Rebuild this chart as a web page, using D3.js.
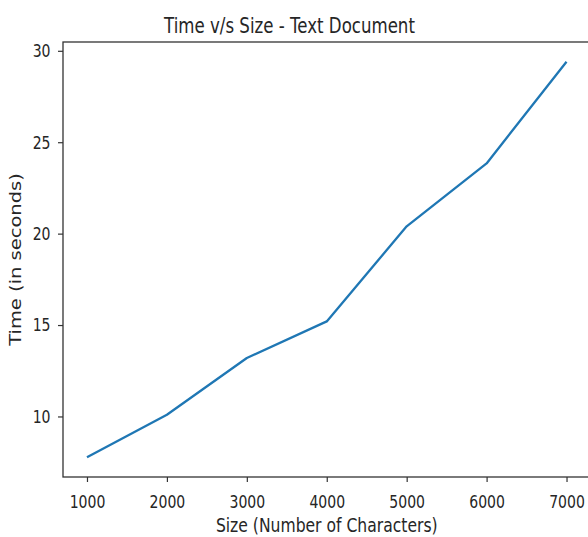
<!DOCTYPE html>
<html>
<head>
<meta charset="utf-8">
<script src="https://cdn.jsdelivr.net/npm/d3@7"></script>
<style>
  body { margin: 0; background: #fff; }
  svg { display: block; }
  text { font-family: "DejaVu Sans", sans-serif; fill: #262626; }
</style>
</head>
<body>
<svg id="chart" width="588" height="537"></svg>
<script>
// values
var sizes = [1000, 2000, 3000, 4000, 5000, 6000, 7000];
var times = [7.77, 10.09, 13.2, 15.2, 20.4, 23.84, 29.4];
var xTicks = [1000, 2000, 3000, 4000, 5000, 6000, 7000];
var yTicks = [10, 15, 20, 25, 30];

drawLine();

function drawLine(){
  var squeeze = 0.78; // the original picture is narrowed sideways

  var svg = d3.select("#chart"),
  plot = {left: 63, right: 590.5, top: 42, bottom: 477};

  // matplotlib style 5% margins around the data
  var xPad = (d3.max(sizes) - d3.min(sizes)) * 0.05;
  var yPad = (d3.max(times) - d3.min(times)) * 0.05;

  var x = d3.scaleLinear()
  .domain([d3.min(sizes) - xPad, d3.max(sizes) + xPad])
  .range([plot.left, plot.right]);

  var y = d3.scaleLinear()
  .domain([d3.min(times) - yPad, d3.max(times) + yPad])
  .range([plot.bottom, plot.top]);

  // the line
  var line = d3.line()
  .x(function(d, i) { return x(sizes[i]); })
  .y(function(d) { return y(d); });

  svg.append("path")
  .datum(times)
  .attr("fill", "none")
  .attr("stroke", "#1f77b4")
  .attr("stroke-width", 2.3)
  .attr("stroke-linejoin", "round")
  .attr("d", line);

  // frame
  svg.append("rect")
  .attr("x", plot.left)
  .attr("y", plot.top)
  .attr("width", plot.right - plot.left)
  .attr("height", plot.bottom - plot.top)
  .attr("fill", "none")
  .attr("stroke", "#333")
  .attr("stroke-width", 1.3);

  // x axis
  var gx = svg.append("g")
  .attr("transform", "translate(0," + plot.bottom + ")")
  .call(d3.axisBottom(x).tickValues(xTicks).tickSize(5).tickFormat(d3.format("d")));
  gx.select(".domain").remove();
  gx.selectAll(".tick line").attr("stroke", "#333").attr("stroke-width", 1.2);
  gx.selectAll(".tick text")
  .attr("y", 31)
  .attr("dy", 0)
  .attr("fill", "#262626")
  .attr("font-size", 18)
  .attr("font-family", "DejaVu Sans, sans-serif")
  .attr("transform", "scale(" + squeeze + ",1)");

  // y axis
  var gy = svg.append("g")
  .attr("transform", "translate(" + plot.left + ",0)")
  .call(d3.axisLeft(y).tickValues(yTicks).tickSize(5));
  gy.select(".domain").remove();
  gy.selectAll(".tick line").attr("stroke", "#333").attr("stroke-width", 1.2);
  gy.selectAll(".tick text")
  .attr("x", -12.5 / squeeze)
  .attr("dy", "0.33em")
  .attr("fill", "#262626")
  .attr("font-size", 18)
  .attr("font-family", "DejaVu Sans, sans-serif")
  .attr("transform", "scale(" + squeeze + ",1)");

  // title and axis labels
  svg.append("text")
  .attr("transform", "translate(289.5,33) scale(" + squeeze + ",1)")
  .attr("text-anchor", "middle")
  .attr("font-size", 21.3)
  .text("Time v/s Size - Text Document");

  svg.append("text")
  .attr("transform", "translate(" + ((plot.left + plot.right) / 2) + ",532) scale(" + squeeze + ",1)")
  .attr("text-anchor", "middle")
  .attr("font-size", 20)
  .text("Size (Number of Characters)");

  svg.append("text")
  .attr("transform", "translate(20.7," + ((plot.top + plot.bottom) / 2) + ") scale(" + squeeze + ",1) rotate(-90)")
  .attr("text-anchor", "middle")
  .attr("font-size", 19.5)
  .text("Time (in seconds)");
}
</script>
</body>
</html>
